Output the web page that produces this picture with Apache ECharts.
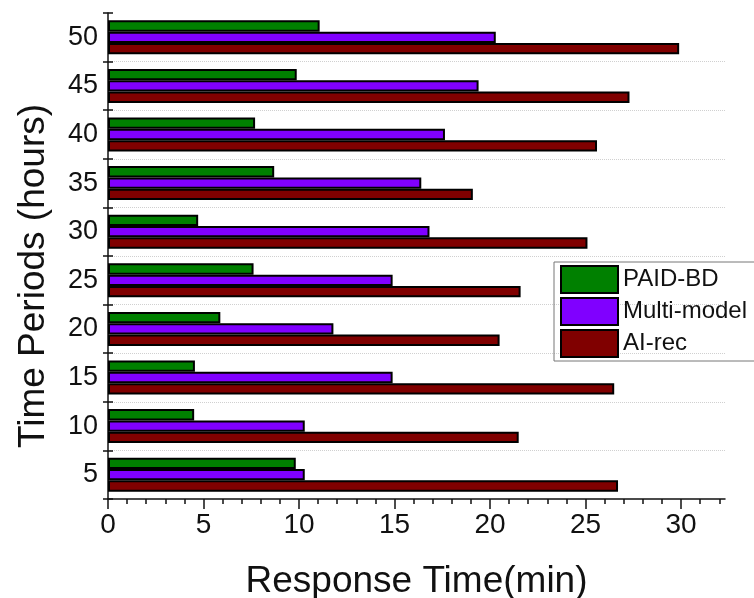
<!DOCTYPE html>
<html>
<head>
<meta charset="utf-8">
<script src="https://cdn.jsdelivr.net/npm/echarts@6/dist/echarts.min.js"></script>
<style>html,body{margin:0;padding:0;background:#fff}#c{width:754px;height:598px}</style>
</head>
<body>
<div id="c"></div>
<script>
const categories = ['5','10','15','20','25','30','35','40','45','50'];
const paidBD     = [9.83, 4.51, 4.55, 5.88, 7.62, 4.72, 8.70, 7.70, 9.88, 11.08];
const multiModel = [10.3, 10.3, 14.9, 11.8, 14.9, 16.83, 16.4, 17.64, 19.4, 20.3];
const aiRec      = [26.7, 21.5, 26.5, 20.5, 21.6, 25.1, 19.1, 25.6, 27.3, 29.9];
const seriesNames = ['PAID-BD', 'Multi-model', 'AI-rec'];
const xTickLabels = [0, 5, 10, 15, 20, 25, 30];
const colors = ['#008000', '#8000ff', '#800000'];

const FONT = "'Liberation Sans', Arial, sans-serif";
const chart = echarts.init(document.getElementById('c'));
const XMAX = 32.3;
const minorTicks = [];
for (let i = 0; i <= Math.floor(XMAX); i++) minorTicks.push(i);

function mkSeries(name, data, color) {
  return {
    name: name, type: 'bar', data: data, xAxisIndex: 0, yAxisIndex: 0,
    barGap: '0%', barCategoryGap: '30%',
    itemStyle: { color: color, borderColor: '#000', borderWidth: 2 },
    emphasis: { disabled: true }
  };
}

chart.setOption({
  animation: false,
  textStyle: { fontFamily: FONT },
  grid: { left: 108, right: 29, top: 13, bottom: 99, containLabel: false, outerBoundsMode: 'none' },
  legend: {
    data: seriesNames,
    orient: 'vertical',
    left: 554, top: 262,
    itemWidth: 57, itemHeight: 27, itemGap: 3,
    padding: [3, 12, 3, 6],
    borderColor: '#777', borderWidth: 1,
    icon: 'rect',
    textStyle: { fontSize: 24, color: '#111', fontFamily: FONT }
  },
  xAxis: [{
    type: 'value', min: 0, max: XMAX, interval: 5,
    name: 'Response Time(min)', nameLocation: 'middle', nameGap: 64,
    nameTextStyle: { fontSize: 37, color: '#111', fontFamily: FONT },
    axisLine: { show: true, lineStyle: { color: '#111', width: 1.5 } },
    axisTick: { show: true, length: 10, customValues: xTickLabels, lineStyle: { color: '#111', width: 1.5 } },
    axisLabel: { fontSize: 28, color: '#111', margin: 12, fontFamily: FONT, customValues: xTickLabels },
    splitLine: { show: false }
  }, {
    type: 'value', min: 0, max: XMAX, interval: 1, position: 'bottom',
    axisLine: { show: false },
    axisTick: { show: true, length: 5, customValues: minorTicks, lineStyle: { color: '#111', width: 1.5 } },
    axisLabel: { show: false },
    splitLine: { show: false }
  }],
  yAxis: [{
    type: 'category', data: categories,
    name: 'Time Periods (hours)', nameLocation: 'middle', nameGap: 56,
    nameTextStyle: { fontSize: 37, color: '#111', fontFamily: FONT, padding: [0, 40, 0, 0] },
    axisLine: { show: true, lineStyle: { color: '#111', width: 1.5 } },
    axisTick: { show: true, length: 5, lineStyle: { color: '#111', width: 1.5 } },
    axisLabel: { fontSize: 27, color: '#111', margin: 10, fontFamily: FONT },
    splitLine: { show: true, showMaxLine: false, showMinLine: false,
      lineStyle: { color: '#d0d0d0', type: 'dotted', width: 1 } }
  }, {
    type: 'category', data: categories, position: 'left',
    axisLine: { show: false },
    axisTick: { show: true, inside: true, length: 5, lineStyle: { color: '#111', width: 1.5 } },
    axisLabel: { show: false },
    splitLine: { show: false }
  }],
  series: [
    mkSeries(seriesNames[0], paidBD, colors[0]),
    mkSeries(seriesNames[1], multiModel, colors[1]),
    mkSeries(seriesNames[2], aiRec, colors[2])
  ]
});
</script>
</body>
</html>
